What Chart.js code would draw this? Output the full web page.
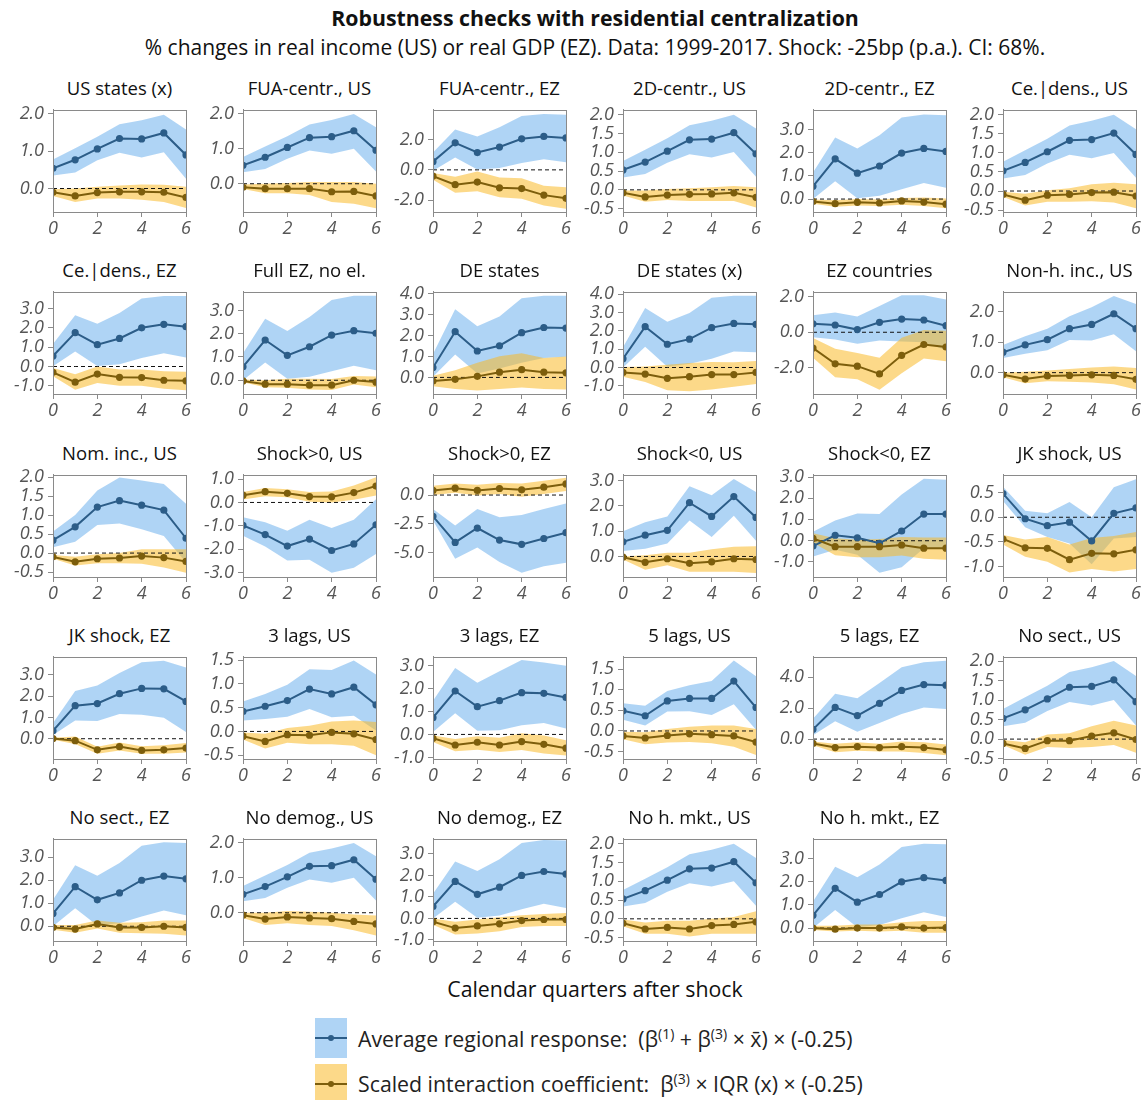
<!DOCTYPE html>
<html>
<head>
<meta charset="utf-8">
<script src="https://cdn.jsdelivr.net/npm/chart.js@4.4.1/dist/chart.umd.min.js"></script>
<style>
  body { margin:0; background:#fff; font-family:'Open Sans', sans-serif; color:#111; }
  #page { position:relative; width:1145px; height:1100px; overflow:hidden; }
  .abs { position:absolute; white-space:nowrap; }
  .ctr { transform:translateX(-50%); }
  .ptitle { position:absolute; width:200px; text-align:center; font-size:18.5px; line-height:24px; color:#111; white-space:nowrap; }
  canvas.panel { position:absolute; }
  .sw { position:absolute; left:315px; width:32px; height:40px; }
  .sw .ln { position:absolute; left:0; right:0; top:19px; height:2px; }
  .sw .dot { position:absolute; left:13px; top:17px; width:6px; height:6px; border-radius:50%; }
  .legtxt { position:absolute; left:358px; font-size:21.3px; line-height:28px; color:#222; white-space:nowrap; }
  .legtxt sup { font-size:14px; vertical-align:baseline; position:relative; top:-0.6em; line-height:0; }
</style>
</head>
<body>
<div id="page">
  <div class="abs ctr" style="left:595px; top:3px; font-size:21.3px; font-weight:bold;">Robustness checks with residential centralization</div>
  <div class="abs ctr" style="left:595px; top:33px; font-size:21px;">% changes in real income (US) or real GDP (EZ). Data: 1999-2017. Shock: -25bp (p.a.). CI: 68%.</div>
  <div class="abs ctr" style="left:595px; top:974px; font-size:21.3px;">Calendar quarters after shock</div>

  <div class="sw" style="top:1018px; background:rgba(95,170,235,0.5);"><div class="ln" style="background:#2c5d88"></div><div class="dot" style="background:#2c5d88"></div></div>
  <div class="legtxt" style="top:1025px;">Average regional response:&nbsp;&nbsp;(β<sup>(1)</sup> + β<sup>(3)</sup> × x̄) × (-0.25)</div>
  <div class="sw" style="top:1064px; background:rgba(250,185,40,0.55);"><div class="ln" style="background:#7d5e0c"></div><div class="dot" style="background:#7d5e0c"></div></div>
  <div class="legtxt" style="top:1070px;">Scaled interaction coefficient:&nbsp;&nbsp;β<sup>(3)</sup> × IQR (x) × (-0.25)</div>
</div>

<script>
const quarters = [0, 1, 2, 3, 4, 5, 6];

const panelTitles = [
  'US states (x)', 'FUA-centr., US', 'FUA-centr., EZ', '2D-centr., US', '2D-centr., EZ', 'Ce.|dens., US',
  'Ce.|dens., EZ', 'Full EZ, no el.', 'DE states', 'DE states (x)', 'EZ countries', 'Non-h. inc., US',
  'Nom. inc., US', 'Shock>0, US', 'Shock>0, EZ', 'Shock<0, US', 'Shock<0, EZ', 'JK shock, US',
  'JK shock, EZ', '3 lags, US', '3 lags, EZ', '5 lags, US', '5 lags, EZ', 'No sect., US',
  'No sect., EZ', 'No demog., US', 'No demog., EZ', 'No h. mkt., US', 'No h. mkt., EZ'
];

// y-axis range and tick spacing per panel
const yMin = [-0.63, -0.81, -2.77, -0.59, -0.56, -0.55,
              -1.42, -0.59, -0.79, -1.45, -3.48, -0.70,
              -0.63, -3.18, -7.13, -0.81, -1.71, -1.21,
              -0.95, -0.58, -1.07, -0.68, -1.29, -0.51,
              -0.64, -0.81, -1.05, -0.59, -0.56];
const yMax = [2.11, 2.12, 3.95, 2.13, 3.86, 2.13,
              3.86, 3.80, 4.08, 4.14, 2.28, 2.65,
              2.06, 1.18, 1.76, 3.22, 3.11, 0.86,
              3.84, 1.57, 3.38, 1.80, 5.33, 2.11,
              3.80, 2.12, 3.70, 2.13, 3.86];
const yStep = [1, 1, 2, 0.5, 1, 0.5,
               1, 1, 1, 1, 2, 1,
               0.5, 1, 2.5, 1, 1, 0.5,
               1, 0.5, 1, 0.5, 2, 0.5,
               1, 1, 1, 0.5, 1];

// average regional response (blue) with 68% band
const avgResp = [
  [0.54,0.77,1.06,1.34,1.33,1.49,0.90], [0.53,0.76,1.04,1.32,1.35,1.52,0.96], [0.54,1.78,1.14,1.50,2.04,2.20,2.10],
  [0.53,0.74,1.03,1.33,1.35,1.52,0.96], [0.55,1.74,1.12,1.43,1.99,2.19,2.06], [0.53,0.75,1.03,1.33,1.35,1.52,0.96],
  [0.54,1.75,1.13,1.45,2.00,2.18,2.06], [0.58,1.73,1.07,1.44,1.94,2.13,2.02], [0.47,2.18,1.26,1.51,2.13,2.38,2.35],
  [0.48,2.23,1.27,1.55,2.18,2.41,2.36], [0.48,0.41,0.15,0.56,0.74,0.69,0.37], [0.67,0.91,1.08,1.44,1.58,1.93,1.44],
  [0.34,0.69,1.21,1.38,1.26,1.13,0.39], [-0.98,-1.37,-1.86,-1.56,-2.05,-1.77,-0.95], [-1.85,-4.12,-2.87,-3.92,-4.29,-3.78,-3.27],
  [0.58,0.84,1.03,2.12,1.58,2.36,1.54], [-0.25,0.26,0.14,-0.12,0.46,1.26,1.26], [0.48,-0.03,-0.17,-0.10,-0.48,0.08,0.19],
  [0.37,1.55,1.65,2.11,2.36,2.34,1.75], [0.42,0.53,0.65,0.89,0.79,0.93,0.56], [0.73,1.89,1.21,1.47,1.82,1.79,1.61],
  [0.49,0.37,0.73,0.79,0.79,1.21,0.57], [0.63,2.05,1.52,2.31,3.15,3.53,3.49], [0.53,0.75,1.03,1.33,1.35,1.52,0.96],
  [0.55,1.72,1.15,1.45,2.00,2.18,2.06], [0.53,0.75,1.03,1.33,1.35,1.52,0.96], [0.55,1.72,1.12,1.45,2.00,2.18,2.06],
  [0.53,0.75,1.03,1.33,1.35,1.52,0.96], [0.55,1.72,1.12,1.45,2.00,2.18,2.06]
];
const avgHi = [
  [0.78,1.08,1.39,1.72,1.83,1.98,1.58], [0.77,1.07,1.36,1.70,1.83,2.00,1.62], [1.14,2.65,2.20,2.80,3.55,3.68,3.63],
  [0.77,1.07,1.37,1.72,1.84,2.00,1.63], [1.15,2.66,2.19,2.76,3.53,3.66,3.62], [0.77,1.07,1.37,1.72,1.84,2.00,1.62],
  [1.16,2.65,2.21,2.76,3.51,3.64,3.64], [1.16,2.64,2.12,2.72,3.45,3.63,3.63], [1.12,3.25,2.44,2.90,3.77,3.89,3.89],
  [1.11,3.25,2.50,2.98,3.82,3.93,3.93], [0.96,1.11,0.89,1.48,2.09,2.09,1.85], [0.91,1.19,1.44,1.85,2.14,2.51,2.25],
  [0.57,1.00,1.65,1.99,1.91,1.82,1.30], [-0.63,-0.84,-1.21,-0.74,-1.09,-0.74,0.14], [-1.22,-2.64,-1.22,-1.93,-1.73,-1.22,-0.74],
  [0.99,1.35,1.58,2.77,2.41,3.05,2.54], [0.42,0.95,1.29,1.26,2.18,2.92,2.88], [0.62,0.13,0.08,0.31,0.00,0.61,0.77],
  [0.74,2.24,2.50,3.08,3.58,3.66,3.34], [0.63,0.79,0.98,1.31,1.29,1.49,1.20], [1.47,2.89,2.25,2.75,3.24,3.13,2.99],
  [0.67,0.61,0.97,1.11,1.21,1.71,1.33], [1.31,2.94,2.65,3.64,4.66,4.97,5.08], [0.77,1.07,1.37,1.72,1.84,2.00,1.62],
  [1.15,2.65,2.20,2.75,3.50,3.65,3.62], [0.77,1.07,1.37,1.72,1.84,2.00,1.62], [1.15,2.65,2.20,2.75,3.50,3.65,3.62],
  [0.77,1.07,1.37,1.72,1.84,2.00,1.62], [1.15,2.65,2.20,2.75,3.50,3.65,3.62]
];
const avgLo = [
  [0.35,0.43,0.76,0.96,0.83,0.97,0.26], [0.33,0.42,0.72,0.95,0.86,1.00,0.35], [-0.05,0.82,0.02,0.13,0.45,0.70,0.50],
  [0.33,0.42,0.72,0.95,0.86,1.01,0.35], [0.00,0.77,0.03,0.14,0.42,0.69,0.49], [0.33,0.42,0.72,0.95,0.86,1.00,0.35],
  [0.02,0.78,0.03,0.12,0.44,0.69,0.47], [0.00,0.76,0.06,0.15,0.39,0.62,0.43], [0.03,1.09,0.19,0.42,0.70,0.93,0.98],
  [0.00,1.14,0.04,0.21,0.48,0.88,0.84], [-0.28,-0.41,-0.65,-0.46,-0.52,-0.56,-1.02], [0.48,0.62,0.73,1.07,1.05,1.26,0.70],
  [0.15,0.30,0.74,0.78,0.63,0.45,-0.25], [-1.42,-1.88,-2.48,-2.44,-3.00,-2.79,-2.20], [-2.22,-5.54,-4.57,-5.82,-6.76,-6.19,-5.90],
  [0.22,0.30,0.51,1.42,0.77,1.61,0.62], [-0.74,-0.43,-0.66,-1.51,-1.25,-0.35,-0.38], [0.33,-0.20,-0.40,-0.53,-0.95,-0.43,-0.40],
  [0.17,0.86,0.83,1.16,1.12,0.98,0.32], [0.23,0.26,0.31,0.47,0.30,0.33,0.02], [0.11,0.92,0.16,0.18,0.40,0.50,0.26],
  [0.27,0.13,0.47,0.48,0.39,0.65,0.03], [0.25,1.16,0.47,1.04,1.63,2.05,1.95], [0.33,0.42,0.72,0.95,0.86,1.00,0.35],
  [0.00,0.78,0.03,0.13,0.42,0.68,0.48], [0.33,0.42,0.72,0.95,0.86,1.00,0.35], [0.00,0.78,0.03,0.13,0.42,0.68,0.48],
  [0.33,0.42,0.72,0.95,0.86,1.00,0.35], [0.00,0.78,0.03,0.13,0.42,0.68,0.48]
];

// scaled interaction coefficient (orange) with 68% band
const interCoef = [
  [-0.10,-0.20,-0.11,-0.09,-0.09,-0.10,-0.24], [-0.10,-0.14,-0.14,-0.14,-0.23,-0.22,-0.35], [-0.41,-0.97,-0.80,-1.18,-1.23,-1.66,-1.87],
  [-0.08,-0.19,-0.14,-0.12,-0.11,-0.08,-0.20], [-0.11,-0.20,-0.14,-0.17,-0.08,-0.13,-0.22], [-0.09,-0.24,-0.11,-0.09,-0.04,-0.03,-0.13],
  [-0.30,-0.81,-0.39,-0.56,-0.57,-0.71,-0.74], [-0.03,-0.17,-0.17,-0.21,-0.21,0.00,-0.08], [-0.17,-0.09,0.05,0.25,0.37,0.25,0.22],
  [-0.27,-0.36,-0.59,-0.50,-0.39,-0.39,-0.27], [-0.89,-1.78,-1.91,-2.35,-1.30,-0.69,-0.83], [-0.07,-0.21,-0.11,-0.09,-0.07,-0.09,-0.22],
  [-0.10,-0.23,-0.15,-0.13,-0.08,-0.12,-0.22], [0.31,0.46,0.39,0.25,0.24,0.42,0.70], [0.40,0.60,0.40,0.57,0.45,0.68,0.97],
  [-0.03,-0.23,-0.09,-0.27,-0.21,-0.09,-0.12], [0.11,-0.28,-0.28,-0.28,-0.20,-0.35,-0.35], [-0.44,-0.62,-0.63,-0.86,-0.73,-0.74,-0.66],
  [0.01,-0.09,-0.52,-0.37,-0.55,-0.52,-0.44], [-0.10,-0.21,-0.07,-0.08,-0.02,-0.05,-0.17], [-0.17,-0.46,-0.34,-0.46,-0.31,-0.43,-0.60],
  [-0.12,-0.17,-0.11,-0.07,-0.09,-0.12,-0.27], [-0.28,-0.55,-0.49,-0.55,-0.49,-0.55,-0.70], [-0.11,-0.24,-0.04,-0.04,0.08,0.16,-0.01],
  [-0.05,-0.12,0.10,-0.05,-0.05,0.00,-0.05], [-0.07,-0.18,-0.12,-0.15,-0.17,-0.25,-0.32], [-0.15,-0.45,-0.35,-0.25,-0.10,-0.05,-0.05],
  [-0.12,-0.27,-0.23,-0.27,-0.18,-0.15,-0.08], [0.00,-0.05,0.00,0.00,0.05,0.00,0.02]
];
const interHi = [
  [-0.02,0.00,0.05,0.08,0.11,0.10,0.05], [-0.02,0.00,0.02,0.05,0.05,0.05,0.00], [-0.20,-0.45,-0.10,-0.50,-0.55,-1.05,-1.15],
  [-0.02,-0.02,0.02,0.04,0.07,0.10,0.07], [-0.02,-0.05,0.00,-0.02,0.05,0.07,0.02], [-0.02,-0.07,0.02,0.07,0.18,0.22,0.18],
  [-0.08,-0.40,0.00,-0.15,-0.15,-0.25,-0.27], [0.03,0.00,0.06,0.06,0.05,0.18,0.16], [0.08,0.34,0.70,1.01,1.15,0.93,1.00],
  [0.02,0.05,0.15,0.25,0.30,0.28,0.35], [-0.33,-0.93,-1.17,-1.43,-0.31,0.13,0.09], [0.00,0.03,0.07,0.12,0.17,0.20,0.15],
  [-0.05,-0.10,-0.03,0.00,0.10,0.10,0.10], [0.45,0.62,0.56,0.45,0.47,0.72,1.08], [0.80,1.00,0.90,1.05,1.00,1.25,1.50],
  [0.00,0.05,0.15,0.15,0.28,0.38,0.40], [0.35,0.12,0.05,0.08,0.18,0.15,0.15], [-0.36,-0.45,-0.40,-0.55,-0.42,-0.38,-0.30],
  [0.05,0.10,-0.38,-0.18,-0.35,-0.30,-0.20], [-0.02,-0.05,0.07,0.12,0.21,0.23,0.20], [-0.05,-0.20,-0.08,-0.15,0.05,-0.05,-0.25],
  [-0.02,-0.03,0.05,0.10,0.13,0.13,0.05], [-0.15,-0.30,-0.20,-0.30,-0.15,-0.20,-0.35], [-0.02,-0.08,0.12,0.15,0.33,0.47,0.35],
  [0.05,0.05,0.25,0.15,0.18,0.25,0.25], [0.00,0.00,0.05,0.03,0.00,-0.05,-0.08], [0.00,-0.15,-0.05,0.05,0.15,0.20,0.25],
  [-0.02,-0.10,-0.05,-0.05,0.00,0.05,0.20], [0.10,0.10,0.15,0.15,0.25,0.30,0.30]
];
const interLo = [
  [-0.20,-0.36,-0.27,-0.27,-0.30,-0.36,-0.52], [-0.15,-0.27,-0.27,-0.32,-0.52,-0.57,-0.70], [-0.65,-1.50,-1.40,-1.80,-1.90,-2.35,-2.55],
  [-0.15,-0.32,-0.27,-0.30,-0.30,-0.30,-0.47], [-0.20,-0.33,-0.28,-0.30,-0.25,-0.30,-0.40], [-0.15,-0.38,-0.28,-0.28,-0.27,-0.30,-0.45],
  [-0.50,-1.20,-0.85,-1.00,-1.00,-1.15,-1.22], [-0.08,-0.30,-0.32,-0.40,-0.42,-0.18,-0.30], [-0.42,-0.55,-0.62,-0.55,-0.48,-0.55,-0.58],
  [-0.50,-0.80,-1.25,-1.30,-1.20,-1.05,-0.90], [-1.44,-2.54,-2.65,-3.24,-2.31,-1.48,-1.63], [-0.15,-0.35,-0.28,-0.30,-0.32,-0.38,-0.55],
  [-0.15,-0.33,-0.27,-0.27,-0.28,-0.38,-0.52], [0.13,0.27,0.22,0.03,0.00,0.12,0.30], [0.00,0.20,-0.05,0.10,-0.15,0.10,0.35],
  [-0.12,-0.52,-0.35,-0.60,-0.60,-0.60,-0.65], [-0.10,-0.68,-0.78,-0.78,-0.70,-0.85,-0.90], [-0.55,-0.80,-0.90,-1.12,-1.05,-1.10,-1.05],
  [-0.05,-0.25,-0.70,-0.55,-0.70,-0.70,-0.65], [-0.17,-0.36,-0.24,-0.27,-0.27,-0.30,-0.50], [-0.33,-0.73,-0.67,-0.77,-0.68,-0.83,-0.92],
  [-0.20,-0.32,-0.28,-0.27,-0.30,-0.38,-0.58], [-0.40,-0.85,-0.75,-0.80,-0.80,-0.90,-1.05], [-0.15,-0.40,-0.20,-0.23,-0.20,-0.15,-0.35],
  [-0.15,-0.28,-0.10,-0.28,-0.30,-0.32,-0.40], [-0.15,-0.35,-0.30,-0.35,-0.38,-0.50,-0.65], [-0.30,-0.75,-0.70,-0.60,-0.40,-0.35,-0.35],
  [-0.20,-0.40,-0.40,-0.47,-0.40,-0.40,-0.40], [-0.08,-0.15,-0.12,-0.15,-0.12,-0.20,-0.20]
];

const BLUE_LINE = '#2c5d88';
const BLUE_BAND = 'rgba(95,170,235,0.5)';
const ORANGE_LINE = '#7d5e0c';
const ORANGE_BAND = 'rgba(250,185,40,0.55)';
const FRAME = '#8a8a8a';
const TICK_FONT = { family: "'Open Sans', sans-serif", size: 18, style: 'italic' };

const page = document.getElementById('page');

// grey box around each plot area
const framePlugin = {
  id: 'frame',
  afterDatasetsDraw(chart) {
    const a = chart.chartArea, ctx = chart.ctx;
    ctx.save();
    ctx.strokeStyle = FRAME;
    ctx.lineWidth = 1;
    ctx.strokeRect(Math.round(a.left) + 0.5, Math.round(a.top) + 0.5,
                   Math.round(a.right - a.left), Math.round(a.bottom - a.top));
    ctx.restore();
  }
};

const pts = arr => quarters.map((q, k) => ({ x: q, y: arr[k] }));

function yTicks(i) {
  const out = [];
  const step = yStep[i];
  for (let v = Math.ceil(yMin[i] / step - 1e-9) * step; v <= yMax[i] + 1e-9; v += step) {
    out.push({ value: Math.round(v * 100) / 100 });
  }
  return out;
}

panelTitles.forEach((title, i) => {
  const r = Math.floor(i / 6), c = i % 6;
  const plotTop = Math.round(107 + 182.25 * r);

  const t = document.createElement('div');
  t.className = 'ptitle';
  t.style.left = (119.5 + 190 * c - 100) + 'px';
  t.style.top = (plotTop - 31) + 'px';
  t.textContent = title;
  page.appendChild(t);

  const cv = document.createElement('canvas');
  cv.className = 'panel';
  cv.width = 200; cv.height = 147;
  cv.style.left = (190 * c) + 'px';
  cv.style.top = (plotTop - 12) + 'px';
  page.appendChild(cv);

  const band = { borderColor: 'transparent', borderWidth: 0, pointRadius: 0, tension: 0 };
  const line = { borderWidth: 2, pointRadius: 2.6, pointHoverRadius: 2.6, tension: 0, fill: false };

  new Chart(cv, {
    type: 'line',
    data: {
      datasets: [
        { ...band, data: pts(avgLo[i]), fill: false, order: 3 },
        { ...band, data: pts(avgHi[i]), fill: '-1', backgroundColor: BLUE_BAND, order: 3 },
        { ...band, data: pts(interLo[i]), fill: false, order: 2 },
        { ...band, data: pts(interHi[i]), fill: '-1', backgroundColor: ORANGE_BAND, order: 2 },
        { data: quarters.map(q => ({ x: q, y: 0 })), borderColor: '#111', borderWidth: 1,
          borderDash: [4, 3], pointRadius: 0, fill: false, order: 1 },
        { ...line, data: pts(interCoef[i]), borderColor: ORANGE_LINE, backgroundColor: ORANGE_LINE,
          pointBackgroundColor: ORANGE_LINE, pointBorderColor: ORANGE_LINE, order: 0 },
        { ...line, data: pts(avgResp[i]), borderColor: BLUE_LINE, backgroundColor: BLUE_LINE,
          pointBackgroundColor: BLUE_LINE, pointBorderColor: BLUE_LINE, order: 0 }
      ]
    },
    options: {
      responsive: false,
      animation: false,
      events: [],
      layout: { padding: { top: 12, right: 14, left: 0, bottom: 0 } },
      plugins: { legend: { display: false }, tooltip: { enabled: false } },
      scales: {
        x: {
          type: 'linear', min: 0, max: 6,
          afterFit: s => { s.height = 30; },
          ticks: { stepSize: 2, font: TICK_FONT, color: '#555', padding: 1, maxRotation: 0 },
          grid: { drawOnChartArea: false, tickLength: 5, color: FRAME },
          border: { color: FRAME }
        },
        y: {
          min: yMin[i], max: yMax[i],
          afterFit: s => { s.width = 53; },
          afterBuildTicks: s => { s.ticks = yTicks(i); },
          ticks: { autoSkip: false, font: TICK_FONT, color: '#555', padding: 4,
                   callback: v => v.toFixed(1) },
          grid: { drawOnChartArea: false, tickLength: 5, color: FRAME },
          border: { color: FRAME }
        }
      }
    },
    plugins: [framePlugin]
  });
});
</script>
</body>
</html>
